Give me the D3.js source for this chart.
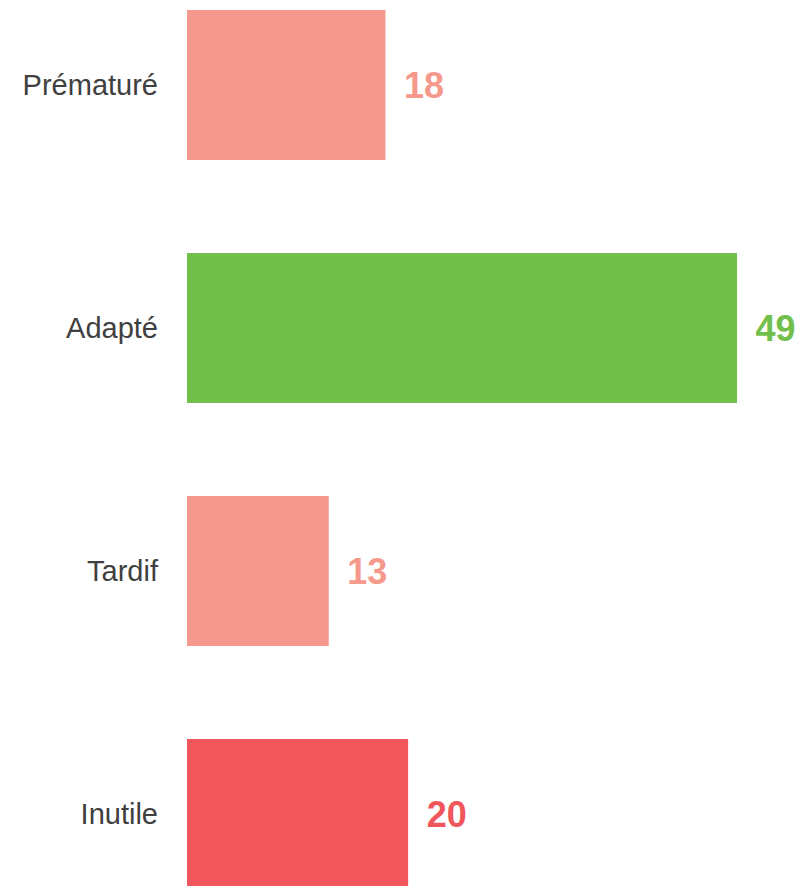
<!DOCTYPE html>
<html>
<head>
<meta charset="utf-8">
<script src="https://cdn.jsdelivr.net/npm/d3@7"></script>
<style>
  html, body { margin: 0; padding: 0; background: #fff; overflow: hidden; }
  svg { display: block; }
  text { font-family: "Liberation Sans", Arial, Helvetica, sans-serif; }
</style>
</head>
<body>
<svg id="chart" width="802" height="886"></svg>
<script>
const categories = ["Prématuré", "Adapté", "Tardif", "Inutile"];
const values = [18, 49, 13, 20];
const colors = ["#F6998D", "#72C04B", "#F6998D", "#F0565B"];

const svg = d3.select("#chart");

const y = d3.scaleBand()
  .domain(categories)
  .range([10, 889])
  .paddingInner(93 / 243)
  .paddingOuter(0);

const x = d3.scaleLinear()
  .domain([0.5, d3.max(values)])
  .range([187, 737]);

const data = categories.map((c, i) => ({ c, v: values[i], color: colors[i] }));

const g = svg.append("g");

g.selectAll("rect.bar")
  .data(data)
  .join("rect")
  .attr("class", "bar")
  .attr("x", x.range()[0])
  .attr("y", d => y(d.c))
  .attr("width", d => x(d.v) - x.range()[0])
  .attr("height", y.bandwidth())
  .attr("fill", d => d.color);

g.selectAll("text.cat")
  .data(data)
  .join("text")
  .attr("class", "cat")
  .attr("x", 158)
  .attr("y", d => y(d.c) + y.bandwidth() / 2)
  .attr("dy", "0.33em")
  .attr("text-anchor", "end")
  .attr("font-size", 29)
  .attr("fill", "#404040")
  .text(d => d.c);

g.selectAll("text.val")
  .data(data)
  .join("text")
  .attr("class", "val")
  .attr("x", d => x(d.v) + 18.5)
  .attr("y", d => y(d.c) + y.bandwidth() / 2)
  .attr("dy", "0.35em")
  .attr("font-weight", "bold")
  .attr("font-size", 36)
  .attr("fill", d => d.color)
  .text(d => d.v);
</script>
</body>
</html>
